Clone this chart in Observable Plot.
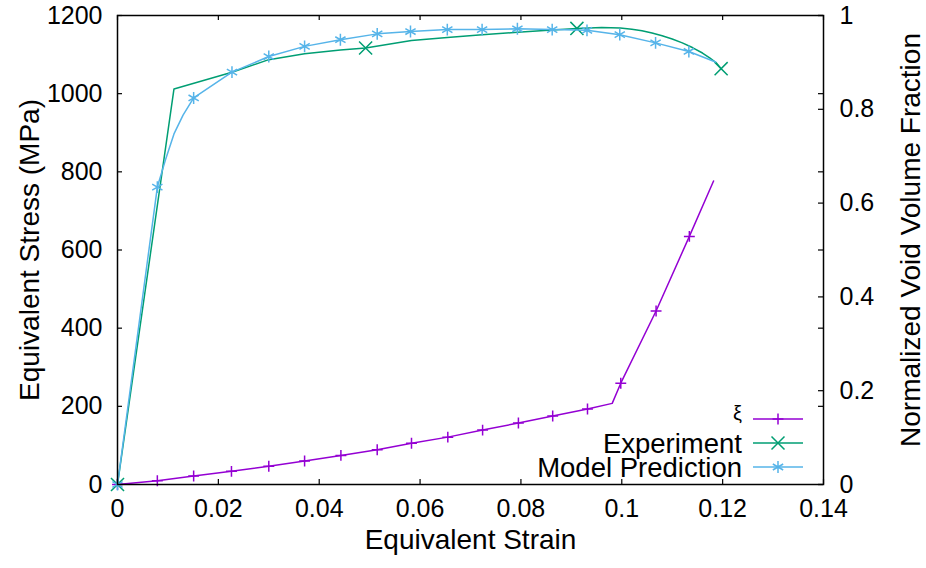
<!DOCTYPE html>
<html>
<head>
<meta charset="utf-8">
<script src="https://cdn.jsdelivr.net/npm/d3@7"></script>
<script src="https://cdn.jsdelivr.net/npm/@observablehq/plot@0.6"></script>
<style>
  html, body { margin: 0; padding: 0; background: #fff; }
</style>
</head>
<body>
<script>
// ---- data ----
const xTicks = [0, 0.02, 0.04, 0.06, 0.08, 0.1, 0.12, 0.14];
const stressTicks = [0, 200, 400, 600, 800, 1000, 1200];
const voidTicks = [0, 0.2, 0.4, 0.6, 0.8, 1];

// void volume fraction (xi), right axis
const voidStrain = [0, 0.0079, 0.0151, 0.0226, 0.0300, 0.0371, 0.0443, 0.0515, 0.0583, 0.0655, 0.0724, 0.0795, 0.0863, 0.0932, 0.0981, 0.0998, 0.1068, 0.1134, 0.1182];
const voidFrac   = [0, 0.008, 0.018, 0.028, 0.039, 0.050, 0.062, 0.074, 0.088, 0.101, 0.116, 0.131, 0.146, 0.161, 0.173, 0.216, 0.370, 0.529, 0.647];
const voidMarked = [1, 1, 1, 1, 1, 1, 1, 1, 1, 1, 1, 1, 1, 1, 0, 1, 1, 1, 0];

// experiment, left axis
const expStrain = [0, 0.0112, 0.0227, 0.0300, 0.0371, 0.0442, 0.0492, 0.0583, 0.0654, 0.0723, 0.0793, 0.0862, 0.0911, 0.0960, 0.0997, 0.1020, 0.1040, 0.1060, 0.1080, 0.1100, 0.1120, 0.1140, 0.1160, 0.1175, 0.1188, 0.1197];
const expStress = [0, 1012, 1055, 1087, 1102, 1112, 1117, 1136, 1144, 1151, 1157, 1163, 1167, 1169, 1168, 1165, 1161, 1155, 1148, 1140, 1130, 1118, 1104, 1091, 1078, 1064];
const expMarked = [1, 0, 0, 0, 0, 0, 1, 0, 0, 0, 0, 0, 1, 0, 0, 0, 0, 0, 0, 0, 0, 0, 0, 0, 0, 1];

// model prediction, left axis
const modelStrain = [0, 0.0079, 0.0095, 0.0112, 0.0130, 0.0151, 0.0227, 0.0300, 0.0371, 0.0442, 0.0515, 0.0581, 0.0654, 0.0723, 0.0793, 0.0862, 0.0931, 0.0996, 0.1067, 0.1133, 0.1186];
const modelStress = [0, 761, 830, 897, 945, 989, 1055, 1095, 1121, 1138, 1153, 1159, 1164, 1164, 1166, 1164, 1162, 1151, 1130, 1108, 1081];
const modelMarked = [1, 1, 0, 0, 0, 1, 1, 1, 1, 1, 1, 1, 1, 1, 1, 1, 1, 1, 1, 1, 0];

const legendLabels = ["ξ", "Experiment", "Model Prediction"];

// ---- build tables ----
const stressMax = 1200;
const voidData = voidStrain.map((x, i) => ({x, y: voidFrac[i] * stressMax, m: voidMarked[i]}));
const expData = expStrain.map((x, i) => ({x, y: expStress[i], m: expMarked[i]}));
const modelData = modelStrain.map((x, i) => ({x, y: modelStress[i], m: modelMarked[i]}));

const C_VOID = "#9400D3", C_EXP = "#009E73", C_MODEL = "#56B4E9";
const W = 926, H = 568, ML = 117, MR = 103, MT = 15, MB = 84;
const FW = W - ML - MR, FH = H - MT - MB;
const TICK = 5;
const fmt = d => String(+(+d).toFixed(2));
const FONT = "'Liberation Sans', Arial, sans-serif";

const plot = Plot.plot({
  width: W, height: H,
  marginLeft: ML, marginRight: MR, marginTop: MT, marginBottom: MB,
  x: {domain: [0, 0.14]},
  y: {domain: [0, stressMax]},
  style: {fontFamily: FONT, background: "#fff", color: "#000"},
  marks: [
    Plot.axisX(xTicks, {anchor: "bottom", tickSize: 0, tickPadding: 15, fontSize: 25, label: null, tickFormat: fmt}),
    Plot.axisY(stressTicks, {anchor: "left", tickSize: 0, tickPadding: 15, fontSize: 25, label: null, tickFormat: d => String(d)}),
    Plot.axisY(voidTicks.map(f => f * stressMax), {anchor: "right", tickSize: 0, tickPadding: 16, fontSize: 25, label: null, tickFormat: d => String(+(d / stressMax).toFixed(1))}),
    // inward ticks (gnuplot style), mirrored
    Plot.ruleX(xTicks, {x: d => d, insetTop: FH - TICK, stroke: "#000", strokeWidth: 1.2}),
    Plot.ruleX(xTicks, {x: d => d, insetBottom: FH - TICK, stroke: "#000", strokeWidth: 1.2}),
    Plot.ruleY(stressTicks, {y: d => d, insetRight: FW - TICK, stroke: "#000", strokeWidth: 1.2}),
    Plot.ruleY(stressTicks, {y: d => d, insetLeft: FW - TICK, stroke: "#000", strokeWidth: 1.2}),
    Plot.ruleY(voidTicks.map(f => f * stressMax), {y: d => d, insetLeft: FW - TICK, stroke: "#000", strokeWidth: 1.2}),
    // series
    Plot.line(voidData, {x: "x", y: "y", stroke: C_VOID, strokeWidth: 1.5}),
    Plot.dot(voidData.filter(d => d.m), {x: "x", y: "y", symbol: "plus", r: 3.6, stroke: C_VOID, fill: "none", strokeWidth: 1.5}),
    Plot.line(expData, {x: "x", y: "y", stroke: C_EXP, strokeWidth: 1.5}),
    Plot.dot(expData.filter(d => d.m), {x: "x", y: "y", symbol: "times", r: 6, stroke: C_EXP, fill: "none", strokeWidth: 1.5}),
    Plot.line(modelData, {x: "x", y: "y", stroke: C_MODEL, strokeWidth: 1.5}),
    Plot.dot(modelData.filter(d => d.m), {x: "x", y: "y", symbol: "asterisk", r: 5.6, stroke: C_MODEL, fill: "none", strokeWidth: 1.5}),
    Plot.frame({stroke: "#000", strokeWidth: 1.5}),
    // axis titles
    Plot.text(["Equivalent Strain"], {frameAnchor: "bottom", textAnchor: "middle", dy: 64, fontSize: 28, text: d => d}),
    Plot.text(["Equivalent Stress (MPa)"], {frameAnchor: "left", textAnchor: "middle", dx: -87, rotate: -90, fontSize: 28, text: d => d}),
    Plot.text(["Normalized Void Volume Fraction"], {frameAnchor: "right", textAnchor: "middle", dx: 88, dy: -10, rotate: -90, fontSize: 28, text: d => d})
  ]
});

// ---- legend (bottom-right, inside the frame) ----
const svg = d3.select(plot);
const right = W - MR, bottom = H - MB;
const rows = [
  {label: legendLabels[0], color: C_VOID, sym: d3.symbolPlus, size: 41, fs: 20, dy: -6},
  {label: legendLabels[1], color: C_EXP, sym: d3.symbolTimes, size: 112, fs: 27.5, dy: 0},
  {label: legendLabels[2], color: C_MODEL, sym: d3.symbolAsterisk, size: 100, fs: 27.5, dy: 0}
];
const lg = svg.append("g").attr("font-family", FONT);
rows.forEach((r, i) => {
  const y = bottom - 65 + i * 24;
  lg.append("text").attr("x", right - 81).attr("y", y + r.dy).attr("dy", "0.35em")
    .attr("text-anchor", "end").attr("font-size", r.fs).attr("fill", "#000").text(r.label);
  lg.append("line").attr("x1", right - 70).attr("x2", right - 20).attr("y1", y).attr("y2", y)
    .attr("stroke", r.color).attr("stroke-width", 1.5);
  lg.append("path").attr("d", d3.symbol(r.sym, r.size)()).attr("transform", `translate(${right - 45},${y})`)
    .attr("stroke", r.color).attr("fill", "none").attr("stroke-width", 1.5);
});

document.body.appendChild(plot);
</script>
</body>
</html>
